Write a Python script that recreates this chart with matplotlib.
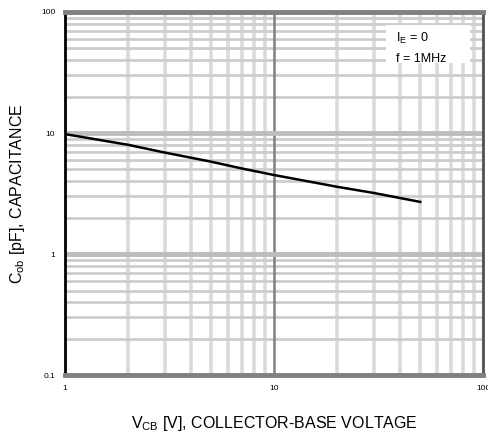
import numpy as np
import matplotlib
matplotlib.use('Agg')
import matplotlib.pyplot as plt
from matplotlib.patches import Rectangle
from matplotlib.ticker import NullFormatter, FixedLocator

plt.rcParams['font.family'] = ['Liberation Sans', 'DejaVu Sans']

# collector-base voltage (V) and output capacitance (pF)
vcb = [1, 2, 3, 5, 7, 10, 20, 30, 50]
cob = [9.8, 8.0, 6.9, 5.8, 5.1, 4.5, 3.6, 3.2, 2.7]

x_ticks = [1, 10, 100]
x_ticklabels = ['1', '10', '100']
y_ticks = [0.1, 1, 10, 100]
y_ticklabels = ['0.1', '1', '10', '100']

fig = plt.figure(figsize=(4.89, 4.43), dpi=100)
ax = fig.add_axes([0.133, 0.153, 0.855, 0.82])
ax.set_xscale('log')
ax.set_yscale('log')
ax.set_xlim(1, 100)
ax.set_ylim(0.1, 100)

# minor grid
minors = np.array([2, 3, 4, 5, 6, 7, 8, 9])
for d in [1, 10]:
    for m in minors * d:
        ax.axvline(m, color='#dadada', lw=2.6, zorder=0)
for d in [0.1, 1, 10]:
    for m in minors * d:
        ax.axhline(m, color='#cdcdcd', lw=2.0, zorder=0)
ax.axvline(10, color='#808080', lw=1.8, zorder=1)
ax.axhline(1, color='#bdbdbd', lw=3.5, zorder=1)
ax.axhline(10, color='#bdbdbd', lw=3.5, zorder=1)

ax.plot(vcb, cob, color='black', lw=1.8, zorder=3)

ax.xaxis.set_major_locator(FixedLocator(x_ticks))
ax.yaxis.set_major_locator(FixedLocator(y_ticks))
ax.xaxis.set_minor_formatter(NullFormatter())
ax.yaxis.set_minor_formatter(NullFormatter())
ax.set_xticklabels(x_ticklabels)
ax.set_yticklabels(y_ticklabels)
ax.tick_params(which='both', length=0, labelsize=6, pad=7)

ax.spines['left'].set_color('black')
ax.spines['left'].set_linewidth(2)
ax.spines['bottom'].set_color('#808080')
ax.spines['bottom'].set_linewidth(3.5)
ax.spines['top'].set_color('#808080')
ax.spines['top'].set_linewidth(3.5)
ax.spines['right'].set_color('#505050')
ax.spines['right'].set_linewidth(2)

ax.set_xlabel(r'V$_{\mathregular{CB}}$ [V], COLLECTOR-BASE VOLTAGE', fontsize=11.5, labelpad=16)
ax.set_ylabel(r'C$_{\mathregular{ob}}$ [pF], CAPACITANCE', fontsize=11.5, labelpad=10)

ax.add_patch(Rectangle((0.768, 0.86), 0.201, 0.104, transform=ax.transAxes,
                       facecolor='white', edgecolor='none', zorder=4))
ax.text(0.792, 0.928, r'I$_{\mathregular{E}}$ = 0', transform=ax.transAxes,
        fontsize=9, va='center', ha='left', zorder=5)
ax.text(0.792, 0.87, 'f = 1MHz', transform=ax.transAxes,
        fontsize=9, va='center', ha='left', zorder=5)

fig.savefig('out.png', dpi=100)
